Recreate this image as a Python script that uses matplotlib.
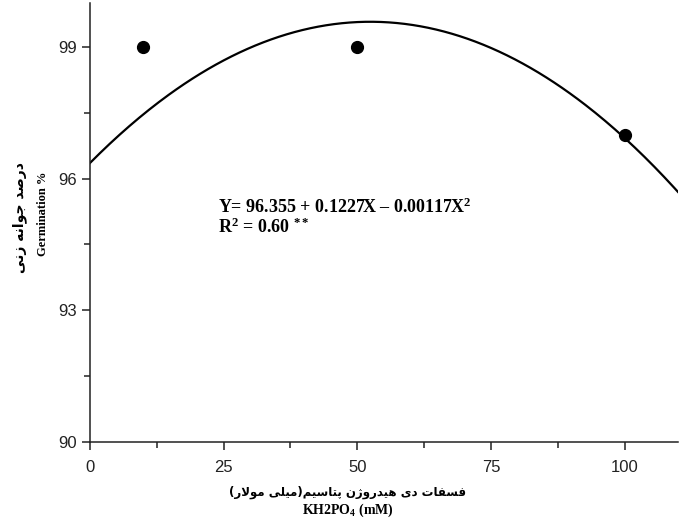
import numpy as np
import matplotlib
matplotlib.use("Agg")
import matplotlib.pyplot as plt
from matplotlib.ticker import MultipleLocator

# Observed germination (%) at each KH2PO4 concentration (mM)
conc = [10, 50, 100]
germination = [99.0, 99.0, 97.0]

# Quadratic fit coefficients: Y = b0 + b1*X + b2*X^2
b0, b1, b2 = 96.355, 0.1227, -0.00117
r_squared = 0.60

x_ticks = [0, 25, 50, 75, 100]
y_ticks = [90, 93, 96, 99]

# --- minimal Persian shaping (presentation forms, right-to-left visual order) ---
FORMS = {
    "ا": ("\uFE8D", "\uFE8E", None, None),
    "د": ("\uFEA9", "\uFEAA", None, None),
    "ر": ("\uFEAD", "\uFEAE", None, None),
    "ز": ("\uFEAF", "\uFEB0", None, None),
    "ژ": ("\uFB8A", "\uFB8B", None, None),
    "و": ("\uFEED", "\uFEEE", None, None),
    "ص": ("\uFEB9", "\uFEBA", "\uFEBB", "\uFEBC"),
    "ج": ("\uFE9D", "\uFE9E", "\uFE9F", "\uFEA0"),
    "ن": ("\uFEE5", "\uFEE6", "\uFEE7", "\uFEE8"),
    "ه": ("\uFEE9", "\uFEEA", "\uFEEB", "\uFEEC"),
    "ی": ("\uFBFC", "\uFBFD", "\uFBFE", "\uFBFF"),
    "ف": ("\uFED1", "\uFED2", "\uFED3", "\uFED4"),
    "س": ("\uFEB1", "\uFEB2", "\uFEB3", "\uFEB4"),
    "ت": ("\uFE95", "\uFE96", "\uFE97", "\uFE98"),
    "پ": ("\uFB56", "\uFB57", "\uFB58", "\uFB59"),
    "م": ("\uFEE1", "\uFEE2", "\uFEE3", "\uFEE4"),
    "ل": ("\uFEDD", "\uFEDE", "\uFEDF", "\uFEE0"),
}
MIRROR = {"(": ")", ")": "("}


def dual(c):
    return c in FORMS and FORMS[c][2] is not None


def shape(text):
    out = []
    i = 0
    n = len(text)
    while i < n:
        c = text[i]
        if c not in FORMS:
            out.append(MIRROR.get(c, c))
            i += 1
            continue
        prev = text[i - 1] if i > 0 else None
        joins_prev = prev is not None and dual(prev)
        if c == "ل" and i + 1 < n and text[i + 1] == "ا":
            out.append("\uFEFC" if joins_prev else "\uFEFB")
            i += 2
            continue
        nxt = text[i + 1] if i + 1 < n else None
        joins_next = dual(c) and nxt is not None and nxt in FORMS
        iso, fin, ini, med = FORMS[c]
        if joins_prev and joins_next:
            out.append(med)
        elif joins_prev:
            out.append(fin)
        elif joins_next:
            out.append(ini)
        else:
            out.append(iso)
        i += 1
    return "".join(reversed(out))


ylabel_fa = shape("درصد جوانه زنی")
xlabel_fa = shape("فسفات دی هیدروژن پتاسیم(میلی مولار)")

plt.rcParams["font.family"] = ["Liberation Sans", "DejaVu Sans"]
plt.rcParams["mathtext.fontset"] = "custom"
plt.rcParams["mathtext.rm"] = "Liberation Serif:bold"
plt.rcParams["mathtext.it"] = "Liberation Serif:bold"
plt.rcParams["mathtext.bf"] = "Liberation Serif:bold"

fig = plt.figure(figsize=(6.88, 5.22), dpi=100)
ax = fig.add_axes([0.1308, 0.1533, 0.8547, 0.8410])

xs = np.linspace(0, 110, 300)
ax.plot(xs, b0 + b1 * xs + b2 * xs ** 2, color="black", lw=1.6)
ax.plot(conc, germination, "o", color="black", ms=8.5)

ax.set_xlim(0, 110)
ax.set_ylim(90, 100)
ax.set_xticks(x_ticks)
ax.set_yticks(y_ticks)
ax.xaxis.set_minor_locator(MultipleLocator(12.5))
ax.yaxis.set_minor_locator(MultipleLocator(1.5))
for s in ("top", "right"):
    ax.spines[s].set_visible(False)
for s in ("left", "bottom"):
    ax.spines[s].set_linewidth(1.1)
    ax.spines[s].set_color("#222222")
ax.tick_params(which="major", direction="out", length=6, width=1.1,
               labelsize=12, colors="#222222")
ax.tick_params(which="minor", direction="out", length=4, width=1.1,
               colors="#222222")
ax.tick_params(axis="x", pad=7)

serif = ["Liberation Serif", "DejaVu Serif"]
ax.text(24.0, 95.35, "Y= 96.355 + 0.1227X \u2013 0.00117X$^2$",
        family=serif, weight="bold", fontsize=13, va="center", ha="left")
ax.text(24.0, 94.88, f"R$^2$ = {r_squared:.2f} $^{{**}}$",
        family=serif, weight="bold", fontsize=13, va="center", ha="left")

fig.text(0.505, 0.0575, xlabel_fa, family=["DejaVu Sans"], weight="bold",
         fontsize=8.5, ha="center", va="center")
fig.text(0.506, 0.023, "KH2PO$_4$ (mM)", family=serif, weight="bold",
         fontsize=10, ha="center", va="center")
fig.text(0.029, 0.584, ylabel_fa, family=["DejaVu Sans"], weight="bold",
         fontsize=10, ha="center", va="center", rotation=90)
fig.text(0.0625, 0.59, "Germination %", family=serif, weight="bold",
         fontsize=9, ha="center", va="center", rotation=90)

fig.savefig("out.png", dpi=100)
